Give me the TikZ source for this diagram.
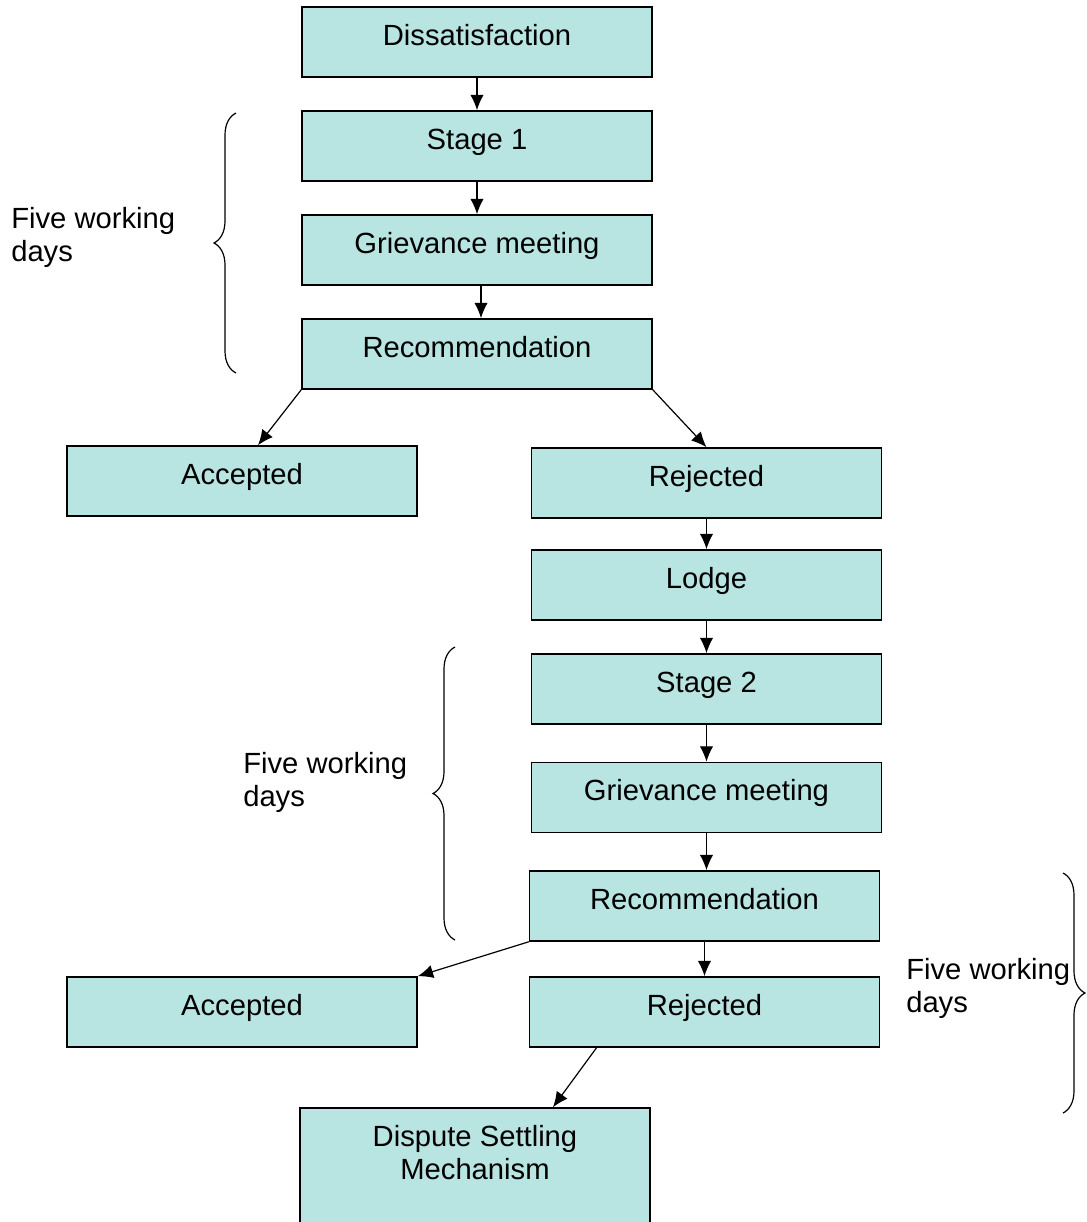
\documentclass[tikz,border=0pt]{standalone}
\usepackage{fontspec}
\setmainfont{Liberation Sans}
\usetikzlibrary{arrows.meta,decorations.pathreplacing}
\definecolor{boxfill}{HTML}{B8E4E2}

\begin{document}
\begin{tikzpicture}[x=0.75pt,y=-0.75pt,>={Latex[length=11.5pt,width=10pt]},
  font=\fontsize{21.9pt}{24.75pt}\selectfont,
  stepbox/.style={draw, line width=1.2pt, fill=boxfill, minimum width=262.5pt, minimum height=52.5pt,
    text height=16pt, text depth=10.8pt, inner sep=2pt},
  link/.style={->, line width=0.9pt},
  daybrace/.style={decorate, decoration={brace, amplitude=16.5pt}, line width=0.9pt},
  daynote/.style={align=left, anchor=west, inner sep=0pt}]
  \clip (0,0) rectangle (1087,1222);

  % Stage 1
  \node[stepbox] (dis)  at (477,42)  {Dissatisfaction};
  \node[stepbox] (st1)  at (477,146) {Stage 1};
  \node[stepbox] (gm1)  at (477,250) {Grievance meeting};
  \node[stepbox] (rec1) at (477,354) {Recommendation};
  \node[stepbox] (acc1) at (242,481) {Accepted};
  \node[stepbox] (rej1) at (706.5,483) {Rejected};

  % Stage 2
  \node[stepbox] (lodge) at (706.5,585) {Lodge};
  \node[stepbox] (st2)   at (706.5,689) {Stage 2};
  \node[stepbox] (gm2)   at (706.5,797.5) {Grievance meeting};
  \node[stepbox] (rec2)  at (704.5,906) {Recommendation};
  \node[stepbox] (acc2)  at (242,1012) {Accepted};
  \node[stepbox] (rej2)  at (704.5,1012) {Rejected};
  \node[stepbox, minimum height=105pt] (dsm) at (475,1178) {};
  \node[align=center, inner sep=0pt] (dsmtext) at (475,1153) {Dispute Settling\\Mechanism};

  \draw[link] (dis) -- (st1);
  \draw[link] (st1) -- (gm1);
  \draw[link] ([xshift=3pt]gm1.south) -- ([xshift=3pt]rec1.north);
  \draw[link] (rec1.south west) -- ([xshift=12pt]acc1.north);
  \draw[link] (rec1.south east) -- (rej1.north);
  \draw[link] (rej1) -- (lodge);
  \draw[link] (lodge) -- (st2);
  \draw[link] (st2) -- (gm2);
  \draw[link] (gm2.south) -- (gm2.south |- rec2.north);
  \draw[link] (rec2) -- (rej2);
  \draw[link] (rec2.south west) -- (acc2.north east);
  \draw[link] ([xshift=-81pt]rej2.south) -- ([xshift=58.5pt]dsm.north);

  % Annotations
  \draw[daybrace] (236,373) -- (236,113);
  \node[daynote] (days1) at (11,237) {Five working\\days};
  \draw[daybrace] (455,940) -- (455,647);
  \node[daynote] (days2) at (243,782) {Five working\\days};
  \draw[daybrace] (1063,873) -- (1063,1113);
  \node[daynote] (days3) at (906,988) {Five working\\days};
\end{tikzpicture}
\end{document}
